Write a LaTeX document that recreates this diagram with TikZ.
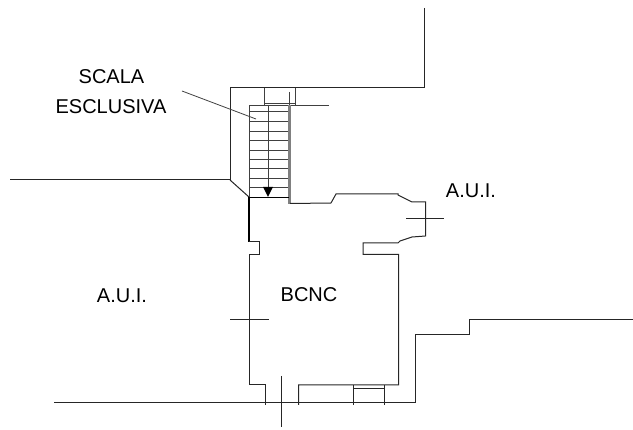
\documentclass[tikz,border=0pt]{standalone}
\usepackage{fontspec}
\setmainfont{Liberation Sans}
\begin{document}
\begin{tikzpicture}
        [
           x=1pt,y=-1pt,
           every node/.style={font=\fontsize{20}{24}\selectfont,inner sep=0pt},
           wall/.style={line width=1pt,black!85},
           heavy/.style={line width=1.4pt,black},
           thin line/.style={line width=0.8pt,black!75}
        ]
        \useasboundingbox (0,0) rectangle (633,430);
        % outer walls
        \draw[wall] (424,8) -- (424,88) -- (230,88) -- (230,180) -- (10,180);
        \draw[wall] (230,180) -- (249,197);
        % stairs
        \draw[thin line] (249,197) -- (249,105) -- (329,105);
        \foreach \y in {111,121,131,140,150,159,168,178,187}
            \draw[thin line] (249,\y) -- (288,\y);
        \draw[thin line] (268,105) -- (268,190);
        \draw[thin line] (264,88) -- (264,105);
        \draw[thin line] (295,88) -- (295,105);
        \draw[thin line] (264,103) -- (295,103);
        \draw[thin line] (289,92) -- (289,105);
        \draw[line width=3.5pt,black!50] (289.7,105) -- (289.7,204);
        \fill (263,187) -- (273,187) -- (268,197) -- cycle;
        \draw[heavy] (249,197.5) -- (289,197.5);
        \draw[heavy] (249,197) -- (249,242);
        % room outline
        \draw[wall] (249,242) -- (259,242) -- (259,254.5) -- (249.5,254.5) -- (249.5,385)
            -- (265,385) -- (265,405);
        \draw[wall] (298.5,405) -- (298.5,385) -- (398.5,385) -- (398.5,254.5) -- (363,254.5)
            -- (363,243) -- (398,243) -- (400,241) -- (412,237) -- (425.5,236) -- (425.5,202)
            -- (412,202) -- (398,195) -- (398,194) -- (336,194) -- (331,203) -- (290,203.5);
        % window
        \draw[wall] (353,385) -- (353,405);
        \draw[wall] (384,385) -- (384,405);
        \draw[wall] (353,389) -- (384,389);
        % bottom line
        \draw[wall] (54,403) -- (415,403) -- (415,335) -- (469,335) -- (469,320) -- (633,320);
        % door ticks
        \draw[wall] (406,219) -- (444,219);
        \draw[wall] (230,320) -- (269,320);
        \draw[wall] (281.5,376) -- (281.5,427);
        % labels
        \node (scala) at (111.5,77) {SCALA};
        \node (esclusiva) at (111,106.5) {ESCLUSIVA};
        \node (auiright) at (471,191) {A.U.I.};
        \node (auileft) at (122,296) {A.U.I.};
        \node (bcnc) at (309,295) {BCNC};
        \coordinate (leaderend) at (256,119);
        \draw[thin line] (182,91) -- (leaderend);
    \end{tikzpicture}
\end{document}
